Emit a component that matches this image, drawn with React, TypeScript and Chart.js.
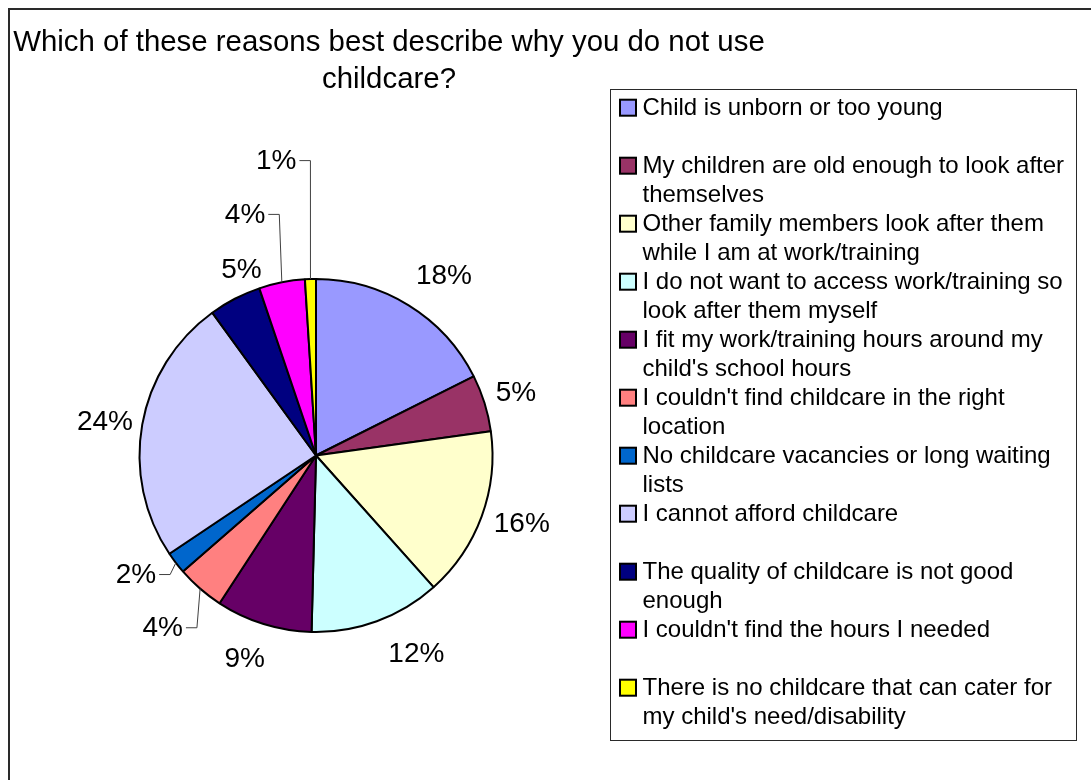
import React, { useEffect, useRef } from "react";
import { Chart, registerables } from "chart.js";

Chart.register(...registerables);

const TITLE_LINES = ["Which of these reasons best describe why you do not use", "childcare?"];

const CATEGORIES: string[][] = [
  ["Child is unborn or too young"],
  ["My children are old enough to look after", "themselves"],
  ["Other family members look after them", "while I am at work/training"],
  ["I do not want to access work/training so", "look after them myself"],
  ["I fit my work/training hours around my", "child's school hours"],
  ["I couldn't find childcare in the right", "location"],
  ["No childcare vacancies or long waiting", "lists"],
  ["I cannot afford childcare"],
  ["The quality of childcare is not good", "enough"],
  ["I couldn't find the hours I needed"],
  ["There is no childcare that can cater for", "my child's need/disability"],
];

const VALUES = [17.6, 5.2, 15.6, 12.0, 8.8, 4.4, 2.0, 24.4, 4.8, 4.2, 1.0];

const COLORS = [
  "#9999FF", "#993366", "#FFFFCC", "#CCFFFF", "#660066", "#FF8080",
  "#0066CC", "#CCCCFF", "#000080", "#FF00FF", "#FFFF00",
];

// label placement tweaks (style only): pixel nudges and leader-line flags
const LABEL_NUDGE: [number, number][] = [
  [10, -3], [-7, -1], [-5, -2], [23, 5], [-7, 7], [-11, 17],
  [-8, -6], [10, 3], [25, -2], [-29, -38], [-33, -88],
];
const LABEL_LEADER = [false, false, false, false, false, true, true, false, false, true, true];

const FONT = '"Liberation Sans", Arial, Helvetica, sans-serif';

const decorPlugin = {
  id: "decor",
  beforeDraw(chart: any) {
    const ctx = chart.ctx as CanvasRenderingContext2D;
    ctx.save();
    ctx.fillStyle = "#ffffff";
    ctx.fillRect(0, 0, chart.width, chart.height);
    ctx.restore();
  },
  afterDraw(chart: any) {
    const ctx = chart.ctx as CanvasRenderingContext2D;
    ctx.save();
    // outer chart border (left & top visible)
    ctx.fillStyle = "#2a2a2a";
    ctx.fillRect(8, 8, chart.width - 8, 2);
    ctx.fillRect(8, 8, 2, chart.height - 8);

    // title
    ctx.fillStyle = "#000";
    ctx.font = `29.4px ${FONT}`;
    ctx.textAlign = "center";
    ctx.textBaseline = "alphabetic";
    ctx.fillText(TITLE_LINES[0], 389, 51);
    ctx.fillText(TITLE_LINES[1], 389, 88);

    // legend box
    ctx.strokeStyle = "#2a2a2a";
    ctx.lineWidth = 1;
    ctx.strokeRect(610.5, 89.5, 466, 651);
    ctx.font = `24px ${FONT}`;
    ctx.textAlign = "left";
    CATEGORIES.forEach((lines, i) => {
      const cy = 107.7 + i * 58;
      ctx.fillStyle = COLORS[i];
      ctx.fillRect(620, cy - 8, 16, 16);
      ctx.strokeStyle = "#000";
      ctx.lineWidth = 2;
      ctx.strokeRect(620, cy - 8, 16, 16);
      ctx.fillStyle = "#000";
      lines.forEach((ln, j) => {
        ctx.fillText(ln, 642.5, cy + 7 + j * 29);
      });
    });

    // data labels
    const meta = chart.getDatasetMeta(0);
    const data = chart.data.datasets[0].data as number[];
    const total = data.reduce((a, b) => a + b, 0);
    ctx.font = `28px ${FONT}`;
    ctx.textAlign = "center";
    ctx.textBaseline = "middle";
    meta.data.forEach((arc: any, i: number) => {
      const p = arc.getProps(["x", "y", "startAngle", "endAngle", "outerRadius"], true);
      const mid = (p.startAngle + p.endAngle) / 2;
      const c = Math.cos(mid);
      const s = Math.sin(mid);
      const txt = Math.round((data[i] / total) * 100) + "%";
      const w = ctx.measureText(txt).width;
      const h = 20;
      const r = p.outerRadius + 20;
      const cx = p.x + r * c + c * (w / 2) + LABEL_NUDGE[i][0];
      const cy = p.y + r * s + s * (h / 2) + LABEL_NUDGE[i][1];
      ctx.fillStyle = "#000";
      ctx.fillText(txt, cx, cy);
      if (LABEL_LEADER[i]) {
        const sx = cx + w / 2 + 3;
        const sy = cy - 1;
        const ex = p.x + p.outerRadius * c;
        const ey = p.y + p.outerRadius * s;
        ctx.strokeStyle = "#404040";
        ctx.lineWidth = 1;
        ctx.beginPath();
        ctx.moveTo(sx, sy + 0.5);
        ctx.lineTo(sx + 11, sy + 0.5);
        ctx.lineTo(ex, ey);
        ctx.stroke();
      }
    });
    ctx.restore();
  },
};

export default function App() {
  const ref = useRef<HTMLCanvasElement | null>(null);
  useEffect(() => {
    if (!ref.current) return;
    const chart = new Chart(ref.current, {
      type: "pie",
      data: {
        labels: CATEGORIES,
        datasets: [
          {
            data: VALUES,
            backgroundColor: COLORS,
            borderColor: "#000",
            borderWidth: 2,
            hoverBorderWidth: 2,
          },
        ],
      },
      options: {
        responsive: false,
        animation: false,
        events: [],
        layout: { padding: { left: 138.5, right: 597.5, top: 278, bottom: 147 } },
        plugins: {
          legend: { display: false },
          tooltip: { enabled: false },
          title: { display: false },
        },
      },
      plugins: [decorPlugin],
    } as any);
    return () => chart.destroy();
  }, []);
  return (
    <div style={{ position: "fixed", left: 0, top: 0, width: 1091, height: 780, overflow: "hidden", background: "#fff" }}>
      <canvas ref={ref} width={1091} height={780} style={{ display: "block" }} />
    </div>
  );
}
